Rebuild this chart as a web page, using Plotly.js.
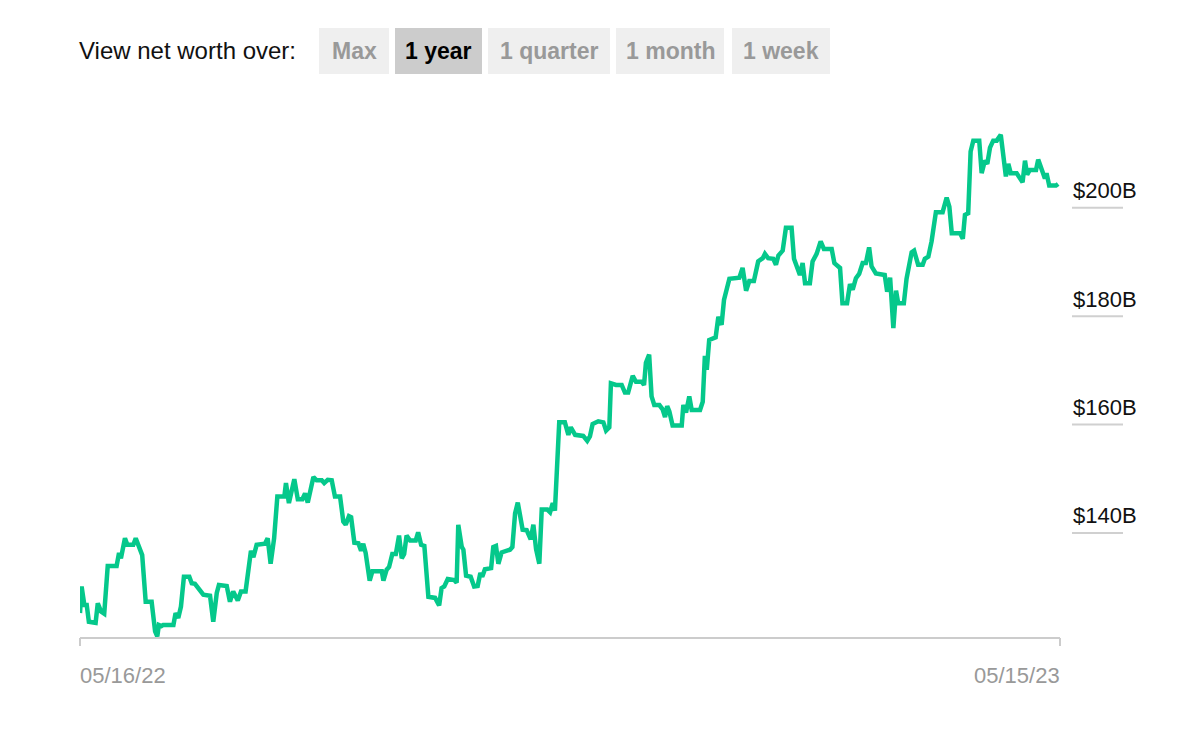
<!DOCTYPE html>
<html>
<head>
<meta charset="utf-8">
<script src="https://cdn.plot.ly/plotly-3.0.1.min.js"></script>
<style>
  html, body { margin: 0; padding: 0; background: #ffffff; }
  #chart { width: 1200px; height: 751px; }
</style>
</head>
<body>
<div id="chart"></div>
<script>
// ---------------- DATA ----------------
const startDate = '2022-05-16';
const endDate = '2023-05-15';
// days since start date
const dayOffsets = [0,0.6,1.6,2.5,3.3,5.8,6.6,7.8,9.0,10.3,13.6,14.5,15.2,16.7,17.6,19.8,20.7,22.3,23.1,24.4,26.6,27.9,28.7,29.3,30.3,30.9,34.7,35.5,36.5,37.5,38.6,40.6,41.5,42.7,43.9,45.8,48.3,49.5,50.8,51.6,54.5,55.7,56.9,58.6,59.8,61.5,63.5,64.4,65.6,68.7,69.7,70.8,72.1,73.3,75.9,76.5,77.6,79.6,80.9,82.6,83.6,84.6,86.7,87.9,89.8,90.7,92.0,93.5,94.7,96.6,97.8,98.7,99.9,100.7,101.9,103.4,104.4,105.2,106.1,107.6,108.6,112.1,112.7,113.9,114.8,116.0,117.3,118.5,119.5,120.4,121.3,122.6,124.7,125.6,126.7,127.9,129.4,130.8,131.9,133.4,134.3,135.3,136.6,139.0,139.9,140.5,141.8,142.4,143.4,145.1,146.4,147.7,148.7,149.4,150.4,152.7,153.5,154.5,155.4,156.6,157.9,159.7,160.6,161.6,162.6,164.4,165.9,167.4,168.4,169.4,170.6,171.5,173.6,174.6,175.6,176.4,178.0,180.1,181.4,182.3,183.9,186.9,188.4,189.4,190.4,192.5,194.4,195.4,196.6,197.2,199.1,201.2,202.4,203.6,205.3,206.5,208.6,209.5,210.2,211.4,212.3,213.3,215.2,216.4,217.3,218.1,218.9,220.1,223.5,224.1,225.1,226.3,227.2,230.3,231.3,232.1,232.8,233.7,236.1,237.1,238.3,239.2,241.2,243.9,244.9,246.1,247.4,248.6,250.3,251.9,253.6,254.4,255.6,257.5,258.5,259.4,261.0,262.2,264.3,265.2,267.4,268.4,269.3,271.1,272.1,273.6,275.1,276.3,279.2,280.2,282.3,283.2,284.9,286.0,287.0,288.2,289.4,290.7,291.9,293.1,294.0,295.6,297.1,298.9,299.8,300.9,302.1,303.1,303.9,306.0,307.0,308.9,309.8,311.3,313.0,313.8,315.1,316.3,317.9,320.4,321.9,322.9,323.8,326.9,327.9,328.7,329.9,330.8,331.8,334.0,334.9,336.1,337.0,338.0,339.2,340.5,342.0,343.9,344.8,345.7,347.9,350.1,351.0,351.8,352.8,355.1,355.9,357.2,358.4,359.0,360.0,362.5,363.3];
// net worth, billions of dollars
const netWorthB = [125.2,130.1,126.7,126.7,123.6,123.4,127.0,125.5,125.1,133.9,133.9,136.3,135.3,139.0,137.8,137.8,139.0,136.9,135.9,127.3,127.3,121.8,120.9,123.0,122.8,123.0,123.0,125.2,124.3,126.4,131.9,131.9,130.7,130.6,129.8,128.6,128.4,123.6,128.9,130.4,130.2,127.3,129.2,127.5,129.2,129.2,136.7,135.5,137.8,138.0,139.0,134.3,139.0,146.7,146.7,149.2,145.5,149.9,146.2,146.2,147.3,145.6,150.3,149.7,149.7,149.2,149.8,149.7,146.7,146.7,142.1,141.5,143.1,142.9,138.2,138.1,136.7,138.0,136.3,131.2,132.9,132.9,131.2,133.2,133.7,136.1,136.1,139.5,135.3,136.1,139.5,138.6,138.6,140.1,137.8,137.6,128.2,128.2,128.0,126.6,129.8,130.1,131.5,131.3,130.8,141.5,137.4,136.9,132.1,131.9,130.1,130.2,132.6,131.9,133.3,133.5,137.4,137.6,134.3,136.4,136.7,136.9,137.4,143.6,145.6,140.6,140.5,138.8,141.5,137.0,134.3,144.3,144.3,143.8,145.5,144.1,160.4,160.4,158.1,159.5,158.1,157.9,157.0,157.8,160.1,160.6,160.4,158.9,159.5,167.6,167.3,167.3,165.9,165.9,169.0,167.9,167.9,167.3,171.4,172.9,165.2,163.6,163.6,162.8,161.4,163.4,162.4,159.8,159.8,163.6,162.2,165.2,162.7,162.7,164.2,172.7,170.1,175.6,176.1,179.9,178.4,183.0,186.9,186.9,187.1,188.9,184.7,186.5,186.5,190.1,190.7,191.5,190.7,190.6,189.5,191.2,192.1,196.3,196.3,190.6,187.6,189.8,186.1,186.1,190.1,191.5,193.8,192.4,192.4,189.8,188.9,182.4,182.4,185.9,184.9,187.0,187.8,189.8,189.8,192.7,189.2,187.9,187.8,187.6,184.5,187.1,177.8,184.7,182.4,182.4,186.9,191.8,192.1,189.5,189.5,190.6,191.0,193.8,199.2,199.2,201.9,200.2,195.3,195.3,194.3,198.7,199.0,210.4,212.4,212.4,206.4,208.7,208.1,211.1,212.4,212.4,213.5,205.8,208.1,206.4,206.4,204.7,208.7,206.1,207.0,207.0,208.9,207.3,205.4,206.4,204.1,204.1,204.4];

const yTickVals = [140, 160, 180, 200];
const yTickLabels = ['$140B', '$160B', '$180B', '$200B'];
const xTickLabels = ['05/16/22', '05/15/23'];
const headerLabel = 'View net worth over:';
const rangeButtons = ['Max', '1 year', '1 quarter', '1 month', '1 week'];
const activeButton = '1 year';

// ---------------- LAYOUT HELPERS ----------------
const W = 1200, H = 751;
const plotL = 80, plotR = 1060, plotT = 100, plotB = 638;
const px2x = px => (px - plotL) / (plotR - plotL);
const py2y = py => (plotB - py) / (plotB - plotT);

const startMs = Date.parse(startDate + 'T00:00:00Z');
const xDates = dayOffsets.map(d => new Date(startMs + d * 86400000).toISOString());

const lineColor = '#05c88b';
const FONT = '"Liberation Sans", Arial, Helvetica, sans-serif';

const shapes = [];
const annotations = [];

// x axis baseline and end ticks
shapes.push({type: 'line', xref: 'paper', yref: 'paper', x0: 0, x1: 1, y0: 0, y1: 0,
  line: {color: '#cccccc', width: 2}});
[0, 1].forEach(x => shapes.push({type: 'line', xref: 'paper', yref: 'paper', x0: x, x1: x,
  y0: 0, y1: py2y(646), line: {color: '#cccccc', width: 2}}));

// x labels
annotations.push({xref: 'paper', yref: 'paper', x: 0, y: py2y(675), xanchor: 'left', yanchor: 'middle',
  xshift: -2, text: xTickLabels[0], showarrow: false, font: {family: FONT, size: 22, color: '#999999'}});
annotations.push({xref: 'paper', yref: 'paper', x: 1, y: py2y(675), xanchor: 'right', yanchor: 'middle',
  xshift: 2, text: xTickLabels[1], showarrow: false, font: {family: FONT, size: 22, color: '#999999'}});

// y labels with short gridlines at right
yTickVals.forEach((v, i) => {
  shapes.push({type: 'line', xref: 'paper', yref: 'y', x0: px2x(1072), x1: px2x(1123), y0: v, y1: v,
    line: {color: '#d0d0d0', width: 2}});
  annotations.push({xref: 'paper', yref: 'y', x: px2x(1071), y: v, xanchor: 'left', yanchor: 'middle',
    yshift: 17, text: yTickLabels[i], showarrow: false,
    font: {family: FONT, size: 22, color: '#111111'}});
});

// header
annotations.push({xref: 'paper', yref: 'paper', x: px2x(77), y: py2y(51), xanchor: 'left', yanchor: 'middle',
  text: headerLabel, showarrow: false, font: {family: FONT, size: 24, color: '#111111'}});
const btnX = [[319, 389], [395, 482], [488, 610], [616, 724], [732, 830]];
rangeButtons.forEach((b, i) => {
  const active = b === activeButton;
  shapes.push({type: 'rect', xref: 'paper', yref: 'paper', x0: px2x(btnX[i][0]), x1: px2x(btnX[i][1]),
    y0: py2y(74), y1: py2y(28), fillcolor: active ? '#cccccc' : '#efefef', line: {width: 0}, layer: 'below'});
  annotations.push({xref: 'paper', yref: 'paper', x: px2x((btnX[i][0] + btnX[i][1]) / 2), y: py2y(51),
    xanchor: 'center', yanchor: 'middle', text: '<b>' + b + '</b>', showarrow: false,
    font: {family: FONT, size: 23, color: active ? '#000000' : '#999999'}});
});

const trace = {
  type: 'scatter', mode: 'lines', x: xDates, y: netWorthB,
  line: {color: lineColor, width: 4.5, shape: 'linear'}, hoverinfo: 'skip'
};

const layout = {
  width: W, height: H,
  margin: {l: plotL, r: W - plotR, t: plotT, b: H - plotB, pad: 0},
  paper_bgcolor: '#ffffff', plot_bgcolor: '#ffffff',
  showlegend: false,
  xaxis: {type: 'date', range: [startDate, endDate], showgrid: false, zeroline: false,
    showline: false, showticklabels: false, ticks: ''},
  yaxis: {range: [120.6, 219.9], showgrid: false, zeroline: false, showline: false,
    showticklabels: false, ticks: ''},
  shapes: shapes,
  annotations: annotations,
  font: {family: FONT}
};

Plotly.newPlot('chart', [trace], layout, {displayModeBar: false, staticPlot: true});
</script>
</body>
</html>
